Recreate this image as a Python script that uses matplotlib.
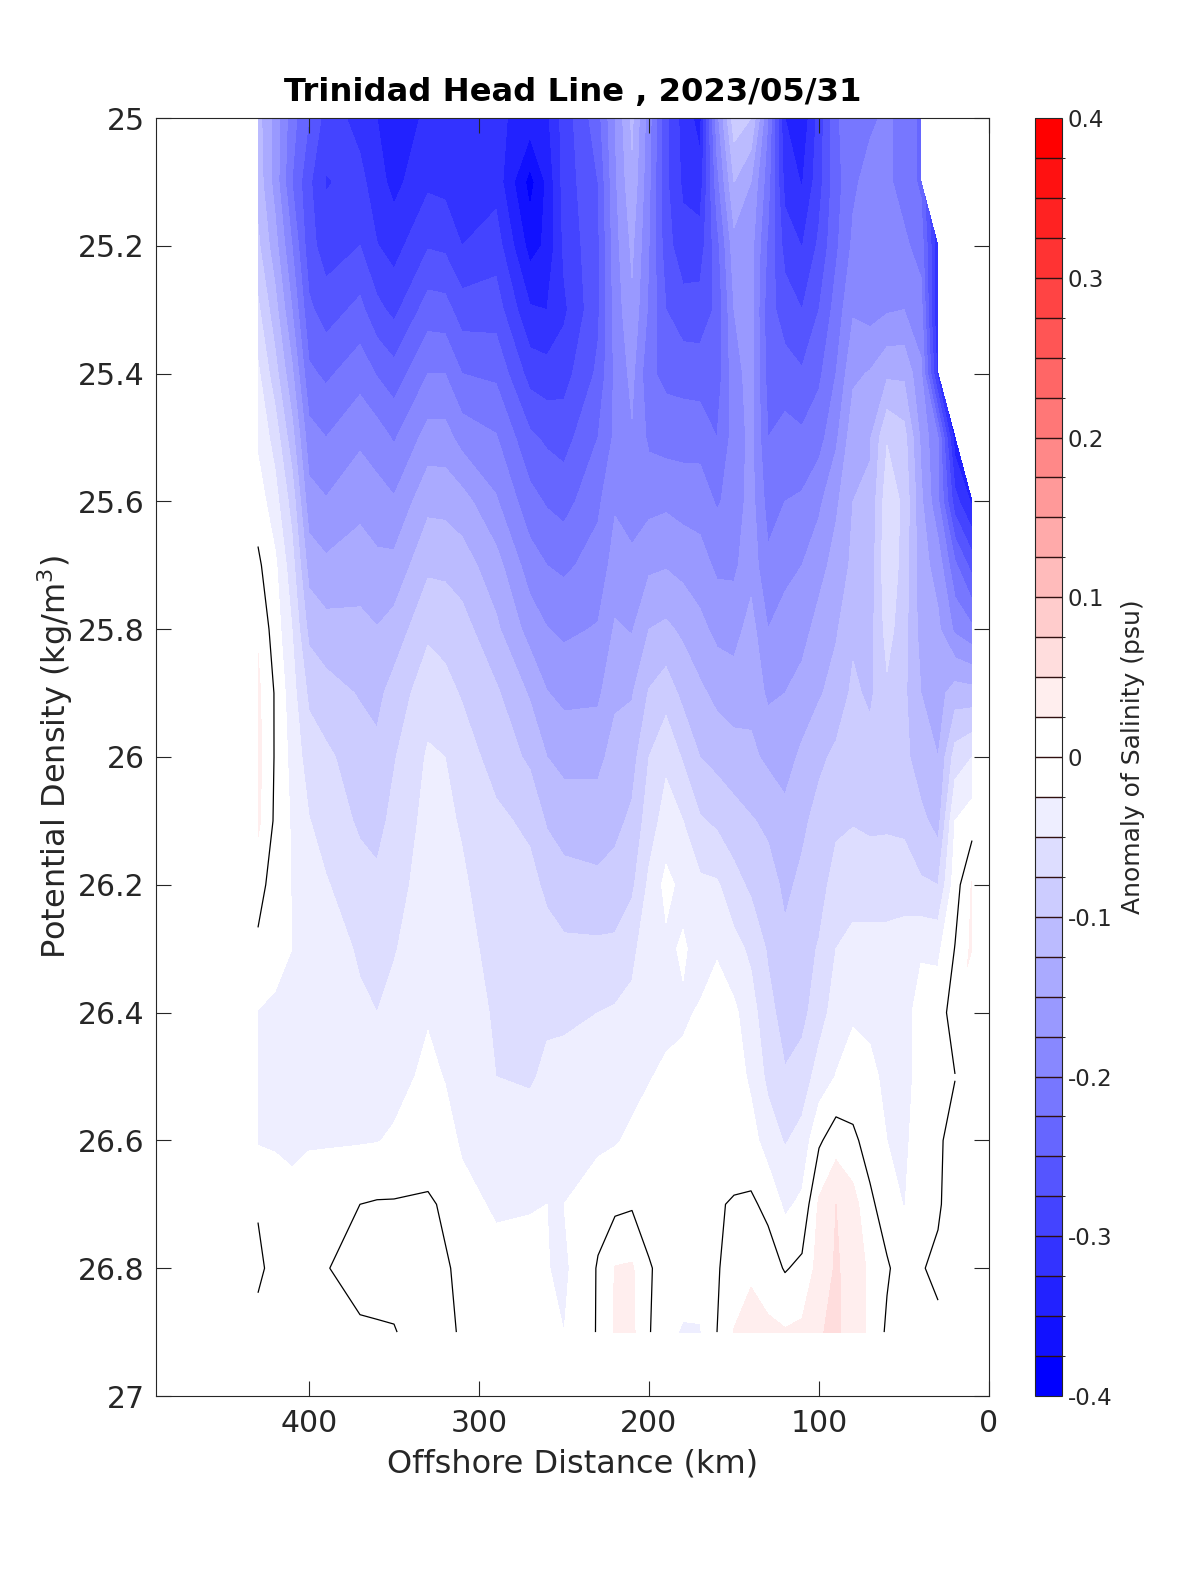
#Trinidad Head Line section: salinity anomaly on density surfaces
import numpy as np
import matplotlib
matplotlib.use('Agg')
import matplotlib.pyplot as plt
from matplotlib.colors import ListedColormap, BoundaryNorm

n = np.nan

distance = [430, 420, 410, 400, 390, 370, 360, 350, 330, 320, 310, 290, 270, 260, 250,
            230, 220, 210, 200, 190, 180, 170, 160, 150, 140, 130, 120, 110, 100, 90,
            80, 70, 60, 50, 40, 30, 20, 10]
density = [25.0, 25.1, 25.2, 25.3, 25.4, 25.5, 25.6, 25.7, 25.8, 25.9,
           26.0, 26.1, 26.2, 26.3, 26.4, 26.5, 26.6, 26.7, 26.8, 26.9]

# one line per station, top to bottom in density
anomaly = [
    [-.115,-.11,-.095,-.07,-.045,-.03,-.012,.005,.022,.03,.032,.03,.01,-.005,-.026,-.03,-.027,-.002,.005,-.008],
    [-.16,-.16,-.14,-.115,-.09,-.06,-.04,-.02,-.012,-.002,-.002,-.004,-.012,-.015,-.03,-.03,-.028,-.012,-.008,-.008],
    [-.215,-.225,-.2,-.175,-.145,-.115,-.085,-.065,-.05,-.04,-.033,-.028,-.026,-.025,-.03,-.033,-.03,-.018,-.008,-.005],
    [-.25,-.27,-.265,-.245,-.22,-.19,-.165,-.135,-.107,-.08,-.062,-.049,-.04,-.035,-.03,-.03,-.028,-.01,-.005,-.005],
    [-.285,-.302,-.288,-.262,-.23,-.2,-.173,-.145,-.116,-.09,-.07,-.06,-.048,-.035,-.0255,-.03,-.027,-.012,-.001,-.004],
    [-.31,-.292,-.275,-.243,-.21,-.18,-.157,-.138,-.118,-.102,-.088,-.079,-.065,-.054,-.045,-.036,-.027,0.0,.008,-.003],
    [-.325,-.315,-.299,-.268,-.227,-.188,-.165,-.144,-.124,-.107,-.094,-.083,-.07,-.056,-.05,-.037,-.026,.002,.008,-.002],
    [-.34,-.333,-.31,-.282,-.24,-.203,-.172,-.143,-.115,-.09,-.077,-.068,-.06,-.052,-.042,-.033,-.022,.002,.007,-.001],
    [-.32,-.305,-.277,-.238,-.2,-.165,-.132,-.105,-.08,-.06,-.047,-.042,-.038,-.032,-.027,-.02,-.012,.003,.01,.01],
    [-.32,-.308,-.28,-.24,-.2,-.165,-.133,-.106,-.083,-.068,-.05,-.046,-.042,-.04,-.036,-.026,-.017,-.003,.002,.002],
    [-.32,-.315,-.3,-.263,-.225,-.185,-.14,-.113,-.09,-.077,-.064,-.052,-.047,-.043,-.038,-.034,-.028,-.018,-.004,-.001],
    [-.32,-.31,-.287,-.262,-.23,-.198,-.172,-.14,-.12,-.096,-.084,-.07,-.062,-.057,-.053,-.05,-.038,-.028,-.018,-.01],
    [-.335,-.385,-.36,-.322,-.285,-.245,-.216,-.188,-.16,-.128,-.105,-.08,-.068,-.06,-.055,-.053,-.038,-.027,-.015,-.01],
    [-.33,-.345,-.345,-.325,-.29,-.255,-.228,-.2,-.174,-.149,-.125,-.103,-.08,-.066,-.054,-.045,-.037,-.025,-.024,-.018],
    [-.29,-.29,-.295,-.305,-.285,-.26,-.235,-.205,-.18,-.157,-.132,-.112,-.09,-.07,-.054,-.043,-.036,-.025,-.03,-.025],
    [-.235,-.25,-.255,-.255,-.245,-.225,-.205,-.19,-.173,-.155,-.132,-.112,-.095,-.07,-.05,-.04,-.031,-.008,.002,.002],
    [-.175,-.18,-.185,-.19,-.195,-.195,-.178,-.165,-.147,-.13,-.115,-.107,-.09,-.07,-.047,-.038,-.027,-.006,.026,.028],
    [-.12,-.13,-.145,-.155,-.168,-.178,-.185,-.17,-.152,-.127,-.11,-.095,-.08,-.057,-.043,-.032,-.021,-.003,.028,.03],
    [-.19,-.195,-.2,-.205,-.22,-.205,-.183,-.155,-.125,-.098,-.075,-.062,-.045,-.033,-.03,-.026,-.018,-.01,.002,.002],
    [-.27,-.27,-.265,-.25,-.232,-.21,-.18,-.152,-.12,-.086,-.055,-.04,-.018,-.03,-.03,-.022,-.012,-.01,-.008,-.02],
    [-.31,-.305,-.29,-.265,-.235,-.21,-.185,-.158,-.13,-.107,-.078,-.05,-.032,-.022,-.028,-.02,-.012,-.01,-.015,-.027],
    [-.335,-.315,-.288,-.265,-.237,-.21,-.186,-.165,-.143,-.12,-.1,-.072,-.045,-.034,-.023,-.012,-.006,-.004,-.012,-.027],
    [-.185,-.21,-.235,-.245,-.24,-.225,-.203,-.18,-.157,-.132,-.108,-.08,-.047,-.028,-.012,-.006,-.003,-.001,-.002,0.0],
    [-.085,-.125,-.16,-.175,-.185,-.19,-.19,-.18,-.16,-.137,-.115,-.09,-.066,-.042,-.02,-.012,-.006,.001,.01,.026],
    [-.1,-.15,-.165,-.165,-.165,-.168,-.165,-.16,-.14,-.132,-.12,-.098,-.08,-.055,-.04,-.03,-.015,.004,.022,.032],
    [-.2,-.215,-.23,-.24,-.235,-.225,-.21,-.195,-.175,-.155,-.13,-.105,-.09,-.078,-.067,-.056,-.037,-.006,.012,.03],
    [-.325,-.31,-.285,-.262,-.24,-.215,-.2,-.182,-.165,-.15,-.135,-.118,-.105,-.095,-.085,-.073,-.052,-.03,-.002,.027],
    [-.345,-.327,-.301,-.275,-.247,-.22,-.196,-.175,-.16,-.14,-.12,-.105,-.095,-.085,-.083,-.063,-.042,-.02,.006,.03],
    [-.29,-.285,-.27,-.25,-.23,-.21,-.18,-.16,-.14,-.128,-.105,-.092,-.085,-.073,-.06,-.04,-.004,.029,.034,.048],
    [-.23,-.235,-.23,-.215,-.2,-.18,-.155,-.14,-.128,-.115,-.095,-.08,-.065,-.05,-.04,-.024,.014,.05,.053,.055],
    [-.205,-.205,-.195,-.178,-.155,-.135,-.125,-.12,-.105,-.095,-.085,-.077,-.057,-.045,-.028,-.015,.005,.035,.04,.038],
    [-.205,-.19,-.19,-.185,-.148,-.128,-.12,-.117,-.11,-.105,-.09,-.08,-.06,-.043,-.03,-.02,-.01,.005,.02,.02],
    [-.195,-.195,-.192,-.178,-.13,-.077,-.06,-.055,-.065,-.08,-.087,-.08,-.057,-.045,-.037,-.03,-.025,-.012,.003,-.004],
    [-.21,-.21,-.195,-.175,-.13,-.09,-.08,-.085,-.09,-.095,-.092,-.082,-.058,-.042,-.034,-.03,-.028,-.026,-.012,-.012],
    [-.23,-.23,-.21,-.19,-.17,-.155,-.145,-.14,-.135,-.125,-.115,-.093,-.072,-.028,-.015,-.02,-.018,-.012,-.001,-.002],
    [n,n,-.32,-.33,-.31,-.2,-.195,-.16,-.145,-.135,-.125,-.11,-.075,-.03,-.012,-.005,-.003,-.002,.003,-.003],
    [n,n,n,n,n,-.34,-.29,-.22,-.18,-.113,-.064,-.025,-.012,.001,.012,-.0005,.007,.008,n,n],
    [n,n,n,n,n,n,-.33,-.26,-.195,-.115,-.05,-.012,.027,.03,n,n,n,n,n,n],
]

x_ticks = [400, 300, 200, 100, 0]
y_ticks = [25, 25.2, 25.4, 25.6, 25.8, 26, 26.2, 26.4, 26.6, 26.8, 27]
y_labels = ['25', '25.2', '25.4', '25.6', '25.8', '26', '26.2', '26.4', '26.6', '26.8', '27']
cb_ticks = [-0.4, -0.3, -0.2, -0.1, 0, 0.1, 0.2, 0.3, 0.4]
cb_labels = ['-0.4', '-0.3', '-0.2', '-0.1', '0', '0.1', '0.2', '0.3', '0.4']

levels = np.arange(-0.4, 0.4001, 0.025)

# blue-white-red in 32 steps, the two middle ones white
azul = [(g, g, 1.0) for g in np.arange(0, 16) / 15]
rojo = [(1.0, g, g) for g in np.arange(15, -1, -1) / 15]
cmap = ListedColormap(azul + rojo)
norm = BoundaryNorm(levels, cmap.N)

GRIS = '#262626'
plt.rcParams['font.family'] = 'DejaVu Sans'

W, H = 1200, 1575
fig = plt.figure(figsize=(W / 100, H / 100), dpi=100)
ax = fig.add_axes([156 / W, 1 - 1396 / H, (989 - 156) / W, (1396 - 118) / H])

z = np.ma.masked_invalid(np.array(anomaly).T)
cf = ax.contourf(distance, density, z, levels=levels, cmap=cmap, norm=norm)
ax.contour(distance, density, z, levels=[0], colors='k', linewidths=0.9)

ax.set_xlim(490, 0)
ax.set_ylim(27, 25)
ax.set_xticks(x_ticks)
ax.set_yticks(y_ticks)
ax.set_yticklabels(y_labels)
ax.tick_params(direction='in', length=10.5, width=0.8, top=True, right=True,
               labelsize=21.5, color=GRIS, labelcolor=GRIS)
ax.tick_params(axis='x', pad=9)
ax.tick_params(axis='y', pad=8)
for s in ax.spines.values():
    s.set_linewidth(0.8)
    s.set_color(GRIS)

ax.set_xlabel('Offshore Distance (km)', fontsize=23, color=GRIS, labelpad=8)
ax.set_ylabel('Potential Density (kg/m$^3$)', fontsize=23, color=GRIS, labelpad=2)
ax.set_title('Trinidad Head Line , 2023/05/31', fontsize=23.2, fontweight='bold',
             color='k', pad=12)

cax = fig.add_axes([1035 / W, 1 - 1396 / H, (1062 - 1035) / W, (1396 - 118) / H])
cb = fig.colorbar(cf, cax=cax, drawedges=True, spacing='uniform')
cb.set_ticks(cb_ticks)
cb.set_ticklabels(cb_labels)
cb.ax.tick_params(length=0, labelsize=16.5, labelcolor=GRIS, pad=4)
cb.dividers.set_color('#301010')
cb.dividers.set_linewidth(1.0)
cb.outline.set_edgecolor(GRIS)
cb.outline.set_linewidth(0.8)
cb.set_label('Anomaly of Salinity (psu)', fontsize=18, color=GRIS, labelpad=6)

fig.savefig('out.png', dpi=100)
